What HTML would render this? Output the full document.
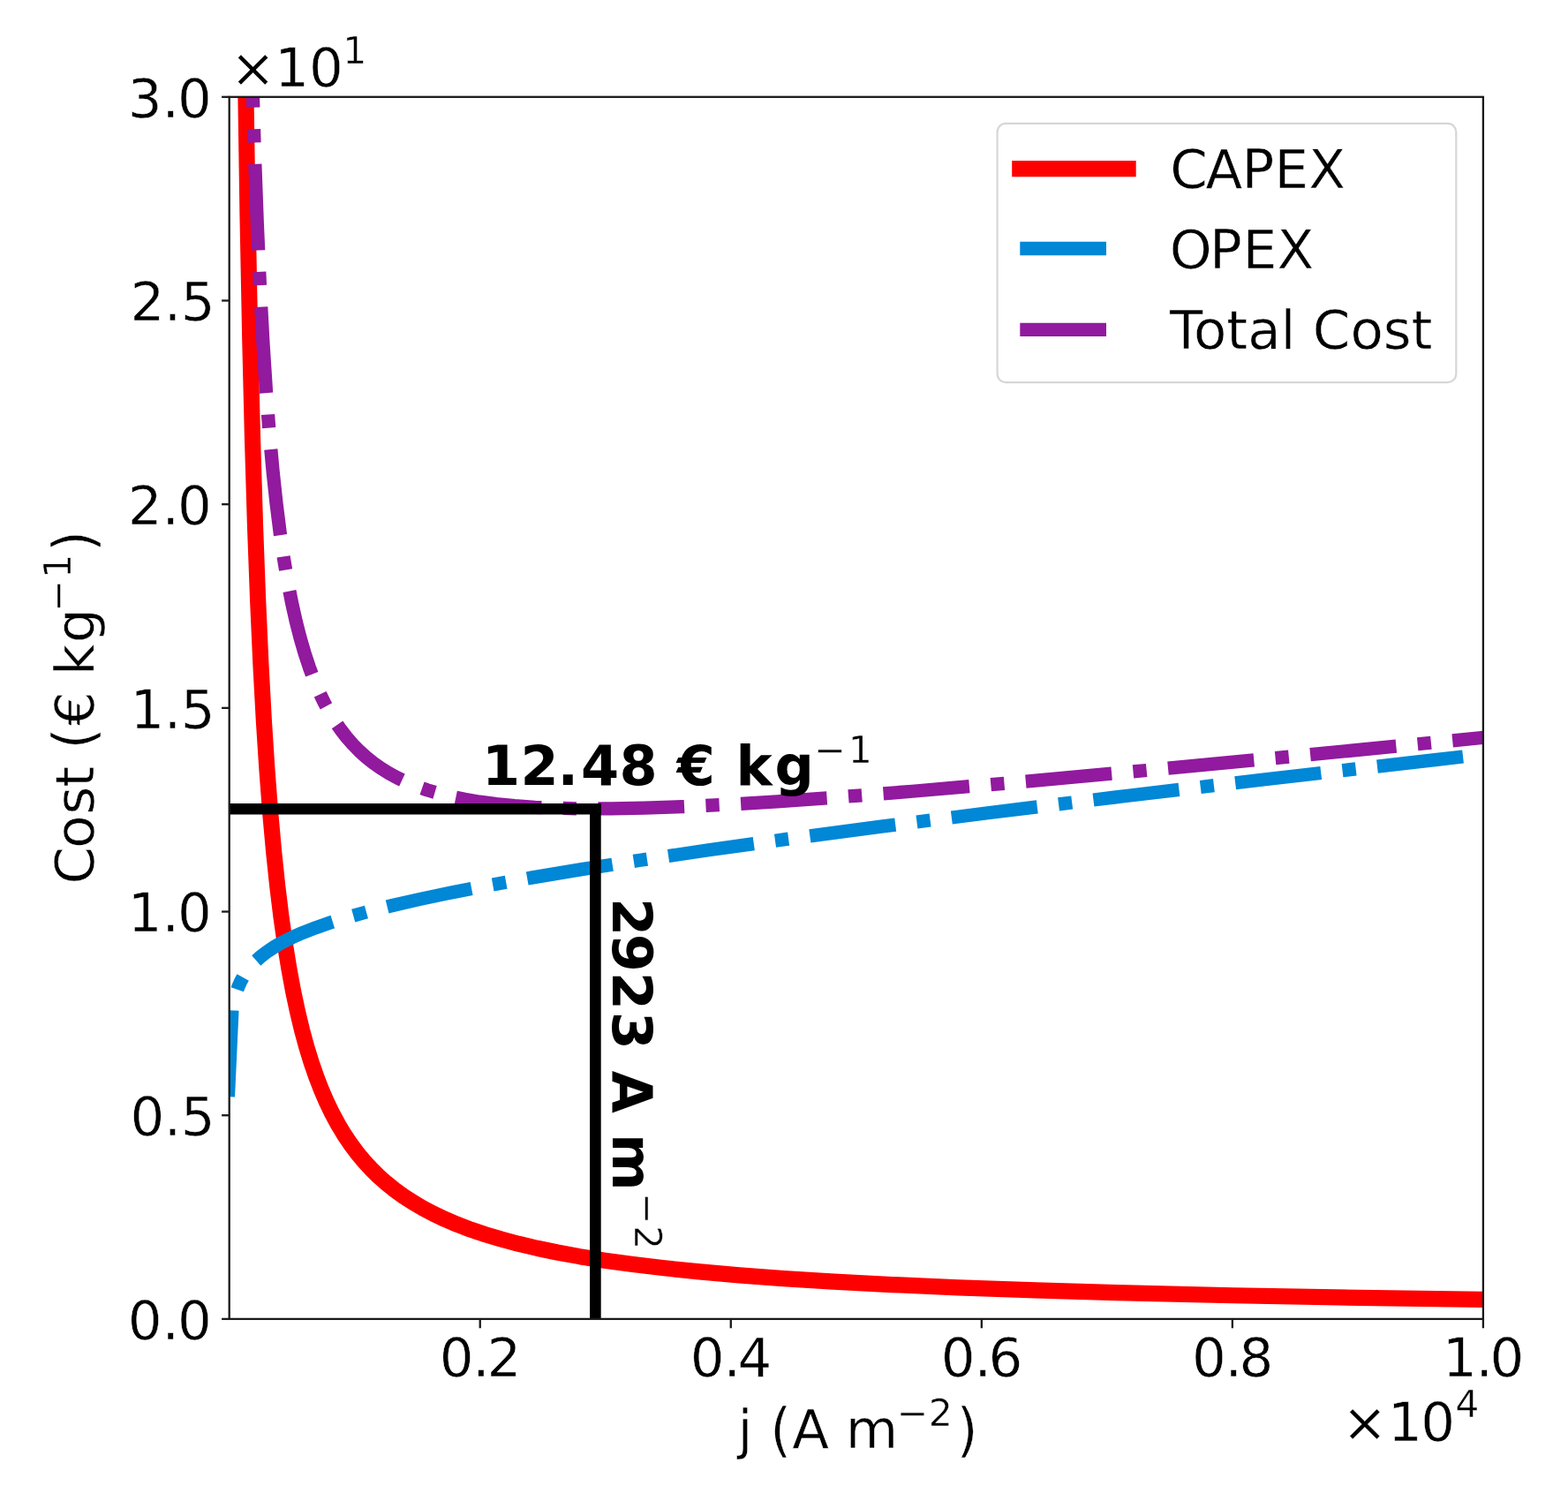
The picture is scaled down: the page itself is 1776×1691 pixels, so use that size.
<!DOCTYPE html>
<html><head><meta charset="utf-8"><style>html,body{margin:0;padding:0;background:#fff;overflow:hidden}svg{display:block;filter:blur(0.5px)}</style></head><body>
<svg width="1776" height="1691" viewBox="0 0 1776 1691" font-family="'DejaVu Sans', 'Liberation Sans', sans-serif">
<style>text{stroke:#fff;stroke-width:0.5px}text[font-weight]{stroke:none}</style>
<defs><clipPath id="ax"><rect x="259.7" y="109.8" width="1420.2" height="1384.1"/></clipPath></defs>
<rect width="1776" height="1691" fill="#fff"/>
<g clip-path="url(#ax)" fill="none">
<path d="M278.01,79.80 L280.53,244.18 L283.24,383.05 L286.05,497.90 L289.02,595.71 L292.12,679.22 L295.43,752.82 L298.84,815.87 L302.45,871.75 L306.24,921.37 L310.22,965.50 L314.21,1003.41 L318.51,1038.58 L322.96,1070.01 L327.54,1098.12 L332.24,1123.30 L337.04,1145.87 L342.15,1167.06 L347.34,1186.07 L352.86,1203.96 L358.43,1220.02 L364.33,1235.19 L370.26,1248.81 L376.52,1261.70 L383.14,1273.91 L389.75,1284.87 L396.71,1295.28 L404.05,1305.17 L411.77,1314.55 L419.90,1323.46 L428.47,1331.92 L437.49,1339.96 L447.00,1347.59 L457.01,1354.83 L467.55,1361.70 L478.65,1368.23 L491.01,1374.77 L504.07,1380.95 L517.86,1386.81 L533.21,1392.64 L549.48,1398.14 L567.60,1403.58 L586.84,1408.71 L608.30,1413.76 L631.15,1418.50 L656.65,1423.14 L685.11,1427.67 L716.94,1432.06 L752.55,1436.31 L792.48,1440.40 L837.29,1444.31 L887.68,1448.05 L944.42,1451.60 L1010.61,1455.06 L1085.56,1458.31 L1173.24,1461.44 L1276.07,1464.42 L1396.99,1467.24 L1539.64,1469.87 L1691.90,1472.11" stroke="#ff0000" stroke-width="18.2" stroke-linecap="square" stroke-linejoin="round"/>
<path d="M258.40,1242.80 L262.91,1144.45 L264.76,1134.60 L266.96,1126.14 L269.53,1118.64 L272.50,1111.84 L275.95,1105.53 L279.92,1099.58 L284.49,1093.89 L289.74,1088.40 L295.76,1083.05 L302.70,1077.77 L310.72,1072.50 L319.96,1067.21 L330.70,1061.84 L343.15,1056.36 L357.76,1050.67 L374.66,1044.83 L394.18,1038.79 L416.99,1032.44 L443.63,1025.73 L474.75,1018.60 L511.10,1010.97 L553.00,1002.88 L601.85,994.14 L658.81,984.63 L725.22,974.24 L802.65,962.81 L892.92,950.17 L998.17,936.13 L1120.89,920.45 L1263.97,902.85 L1430.80,883.02 L1625.30,860.59 L1685.00,853.82" stroke="#0087d6" stroke-width="15.27" stroke-dasharray="97.73 24.43 15.27 24.43" stroke-dashoffset="161.20" stroke-linejoin="round"/>
<path d="M285.27,69.80 L288.22,168.91 L291.33,253.78 L294.59,326.61 L297.99,389.24 L301.53,443.79 L305.22,491.37 L309.07,533.44 L313.07,570.69 L317.23,603.69 L321.51,632.97 L325.97,659.33 L330.54,682.74 L335.27,703.86 L340.14,722.93 L345.24,740.42 L350.48,756.22 L355.84,770.48 L361.41,783.60 L367.19,795.65 L373.19,806.73 L379.39,816.91 L385.81,826.26 L392.57,835.01 L399.55,843.03 L406.89,850.53 L414.61,857.51 L422.74,864.02 L431.30,870.06 L440.48,875.75 L450.14,881.01 L460.53,885.92 L471.69,890.49 L483.69,894.71 L496.61,898.57 L510.77,902.13 L526.31,905.34 L543.37,908.19 L562.12,910.64 L582.76,912.67 L605.84,914.27 L631.30,915.36 L660.24,915.94 L692.71,915.91 L729.69,915.20 L772.38,913.71 L821.73,911.31 L880.16,907.77 L949.45,902.88 L1033.39,896.25 L1137.99,887.26 L1271.77,875.05 L1451.80,857.86 L1685.00,834.93" stroke="#911a9e" stroke-width="15.27" stroke-dasharray="97.73 24.43 15.27 24.43" stroke-dashoffset="207.60" stroke-linejoin="round"/>
<path d="M239.7,916.3H674.4" stroke="#000" stroke-width="12.6" stroke-linecap="square"/>
<path d="M674.4,916.3V1513.9" stroke="#000" stroke-width="12.6" stroke-linecap="square"/>
</g>
<rect x="259.7" y="109.8" width="1420.2" height="1384.1" fill="none" stroke="#1a1a1a" stroke-width="2.3"/>
<path d="M251.1,1493.90H259.7" stroke="#1a1a1a" stroke-width="2.3"/>
<path d="M251.1,1263.22H259.7" stroke="#1a1a1a" stroke-width="2.3"/>
<path d="M251.1,1032.53H259.7" stroke="#1a1a1a" stroke-width="2.3"/>
<path d="M251.1,801.85H259.7" stroke="#1a1a1a" stroke-width="2.3"/>
<path d="M251.1,571.17H259.7" stroke="#1a1a1a" stroke-width="2.3"/>
<path d="M251.1,340.48H259.7" stroke="#1a1a1a" stroke-width="2.3"/>
<path d="M251.1,109.80H259.7" stroke="#1a1a1a" stroke-width="2.3"/>
<path d="M543.74,1493.9V1504.3000000000002" stroke="#1a1a1a" stroke-width="2.3"/>
<path d="M827.78,1493.9V1504.3000000000002" stroke="#1a1a1a" stroke-width="2.3"/>
<path d="M1111.82,1493.9V1504.3000000000002" stroke="#1a1a1a" stroke-width="2.3"/>
<path d="M1395.86,1493.9V1504.3000000000002" stroke="#1a1a1a" stroke-width="2.3"/>
<path d="M1679.90,1493.9V1504.3000000000002" stroke="#1a1a1a" stroke-width="2.3"/>
<text x="144.7 183.4 201.0" y="1516.8" font-size="61.0">0.0</text>
<text x="147.4 185.7 204.7" y="1286.1" font-size="61.0">0.5</text>
<text x="144.7 183.4 201.0" y="1055.4" font-size="61.0">1.0</text>
<text x="147.4 185.7 204.7" y="824.8" font-size="61.0">1.5</text>
<text x="144.7 183.4 201.0" y="594.1" font-size="61.0">2.0</text>
<text x="147.4 185.7 204.7" y="363.4" font-size="61.0">2.5</text>
<text x="144.7 183.4 201.0" y="132.7" font-size="61.0">3.0</text>
<text x="497.7 535.3 551.4" y="1558.6" font-size="61.0">0.2</text>
<text x="781.8 819.4 835.5" y="1558.6" font-size="61.0">0.4</text>
<text x="1065.8 1103.4 1119.5" y="1558.6" font-size="61.0">0.6</text>
<text x="1349.9 1387.5 1403.6" y="1558.6" font-size="61.0">0.8</text>
<text x="1633.9 1671.5 1687.6" y="1558.6" font-size="61.0">1.0</text>
<text x="260.9 311.2 349.9" y="98.3" font-size="61.0">×10</text>
<text x="388.2" y="71.9" font-size="42.7">1</text>
<text x="1520.3 1572.1 1609.2" y="1632.1" font-size="61.0">×10</text>
<text x="1648.2" y="1605.2" font-size="42.7">4</text>
<text x="835.5" y="1639.7" font-size="61.0">j</text>
<g transform="translate(0,1621.15) scale(1,1.093) translate(0,-1620.85)">
<text x="872.2" y="1639.7" font-size="61.0">(</text>
<text x="1083.7" y="1639.7" font-size="61.0">)</text>
</g>
<text x="897.2 938.9 957.7" y="1639.7" font-size="61.0" xml:space="preserve">A m</text>
<text x="1015.7 1051.7" y="1614.9" font-size="42.7">−2</text>
<g transform="translate(105.9,998.2) rotate(-90)">
<text x="-3.4 37.4 75.6 106.5" y="0.0" font-size="61.0">Cost</text>
<text x="176.1 214.9 233.3 270.1" y="0.0" font-size="61.0" xml:space="preserve">€ kg</text>
<text x="305.6 343.3" y="-26.2" font-size="42.7">−1</text>
<g transform="translate(0,-19.35) scale(1,1.057) translate(0,18.7)">
<text x="149.8" y="0.0" font-size="61.0">(</text>
<text x="373.5" y="0.0" font-size="61.0">)</text>
</g>
</g>
<rect x="1129.6" y="139.9" width="519.7" height="293.2" rx="9.5" fill="#fff" fill-opacity="0.8" stroke="#cccccc" stroke-opacity="0.8" stroke-width="2.2"/>
<path d="M1155.3,191.1H1277.6" stroke="#ff0000" stroke-width="18.2" stroke-linecap="square"/>
<path d="M1155.3,281.5h97.7" stroke="#0087d6" stroke-width="15.27"/>
<path d="M1155.3,373.4h97.7" stroke="#911a9e" stroke-width="15.27"/>
<text x="1325.2 1365.4 1406.4 1443.4 1482.2" y="212.7" font-size="61.0">CAPEX</text>
<text x="1324.7 1370.0 1407.7 1446.4" y="304.0" font-size="61.0">OPEX</text>
<text x="1325" y="395.0" font-size="61.0">Total Cost</text>
<text x="546.0 589.6 631.6 658.0 701.6 745.0 766.7 810.0 833.5 877.4" y="889.4" font-size="62.0" font-weight="bold" xml:space="preserve">12.48 € kg</text>
<text x="922.2 960.7" y="863.7" font-size="42.7">−1</text>
<g transform="translate(693.7,0) rotate(90)">
<text x="1016.9 1057.7 1100.8 1145.7 1189.0 1212.7 1262.0 1284.0" y="0.0" font-size="62.0" font-weight="bold" xml:space="preserve">2923 A m</text>
<text x="1350.9 1388.1" y="-25.3" font-size="42.7">−2</text>
</g>
</svg>
</body></html>
